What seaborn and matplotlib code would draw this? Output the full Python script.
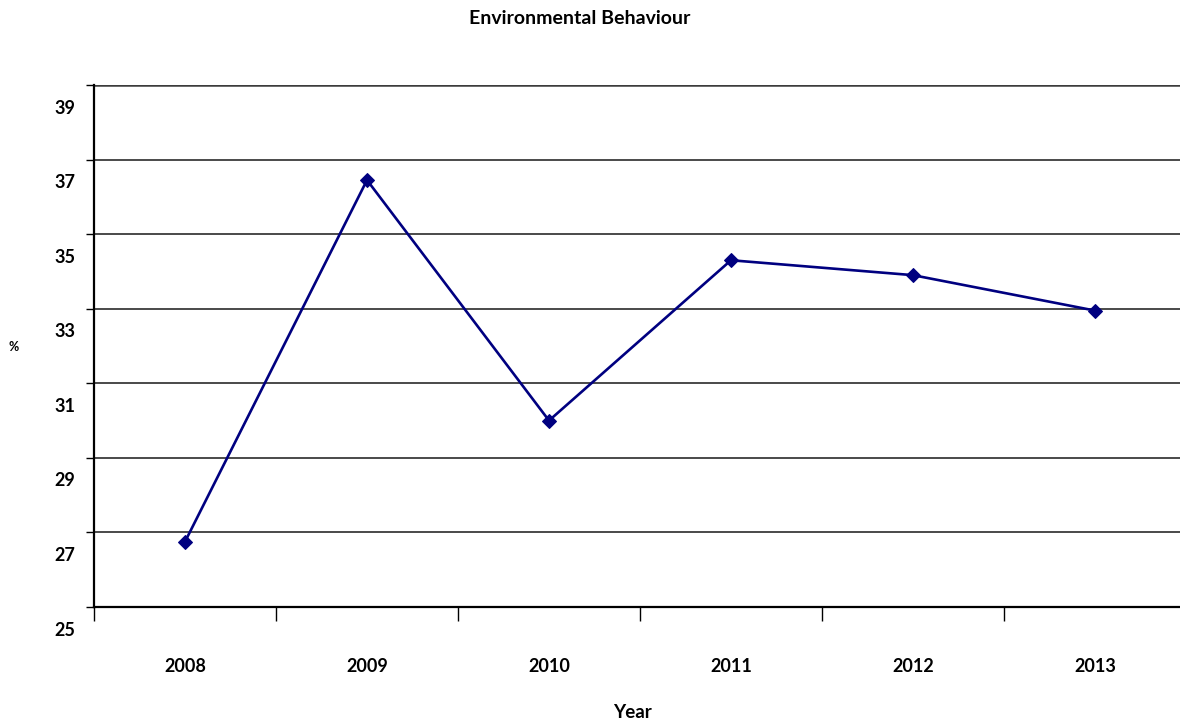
import matplotlib
matplotlib.use("Agg")
import matplotlib.pyplot as plt
import matplotlib.transforms as mtransforms
import seaborn as sns
import pandas as pd

# Survey series: share of respondents (%) per year
years = ["2008", "2009", "2010", "2011", "2012", "2013"]
values = [26.75, 36.45, 30.0, 34.3, 33.9, 32.95]
y_ticks = [25, 27, 29, 31, 33, 35, 37, 39]

sns.set_theme(style="white")
plt.rcParams["font.family"] = ["Lato", "DejaVu Sans"]
plt.rcParams["font.weight"] = "bold"
plt.rcParams["text.color"] = "black"
plt.rcParams["xtick.color"] = "black"
plt.rcParams["ytick.color"] = "black"

W, H = 1180, 724
fig = plt.figure(figsize=(W / 100, H / 100), dpi=100)
left, right, top, bottom = 94, 1186, 85, 607
ax = fig.add_axes([left / W, 1 - bottom / H, (right - left) / W, (bottom - top) / H])

df = pd.DataFrame({"Year": years, "Value": values})
sns.lineplot(data=df, x="Year", y="Value", ax=ax, color="#000080",
             linewidth=1.9, marker="D", markersize=7.5,
             markeredgecolor="#000080", markerfacecolor="#000080")

n = len(years)
ax.set_xlim(-0.5, n - 0.5)
ax.set_ylim(y_ticks[0], y_ticks[-1])

# horizontal gridlines
for v in y_ticks[1:]:
    ax.axhline(v, color="#3c3c3c", linewidth=1.3 if v != y_ticks[-1] else 1.8, zorder=0.5)

for s in ["top", "right"]:
    ax.spines[s].set_visible(False)
for s in ["left", "bottom"]:
    ax.spines[s].set_visible(True)
    ax.spines[s].set_color("black")
    ax.spines[s].set_linewidth(1.6)

# category boundaries as x ticks, labels centred between them
ax.set_xticks([i - 0.5 for i in range(n + 1)])
ax.set_xticklabels([])
ax.set_xticks(range(n), minor=True)
ax.set_xticklabels(years, minor=True, fontsize=13, fontweight="bold", color="black")
ax.tick_params(axis="x", which="major", direction="out", length=10, width=1.0,
               color="black", bottom=True)
ax.tick_params(axis="x", which="minor", length=0, pad=37)

ax.set_yticks(y_ticks)
ax.set_yticklabels([])
ax.tick_params(axis="y", which="major", direction="out", length=6, width=1.0,
               color="black", left=True)

# y labels sit below their gridlines
off = mtransforms.ScaledTranslation(0, -23 / 100, fig.dpi_scale_trans)
trans = mtransforms.blended_transform_factory(fig.transFigure, ax.transData) + off
for v in y_ticks:
    ax.text(75 / W, v, str(v), transform=trans, ha="right", va="center",
            fontsize=13, fontweight="bold", color="black")

ax.set_xlabel("")
ax.set_ylabel("")
fig.text(580 / W, 1 - 18 / H, "Environmental Behaviour", ha="center", va="center",
         fontsize=14, fontweight="bold", color="black")
fig.text(632 / W, 1 - 713 / H, "Year", ha="center", va="center",
         fontsize=13.5, fontweight="bold", color="black")
fig.text(14 / W, 1 - 347 / H, "%", ha="center", va="center",
         fontsize=9, fontweight="bold", color="black")

fig.savefig("out.png", dpi=100)
